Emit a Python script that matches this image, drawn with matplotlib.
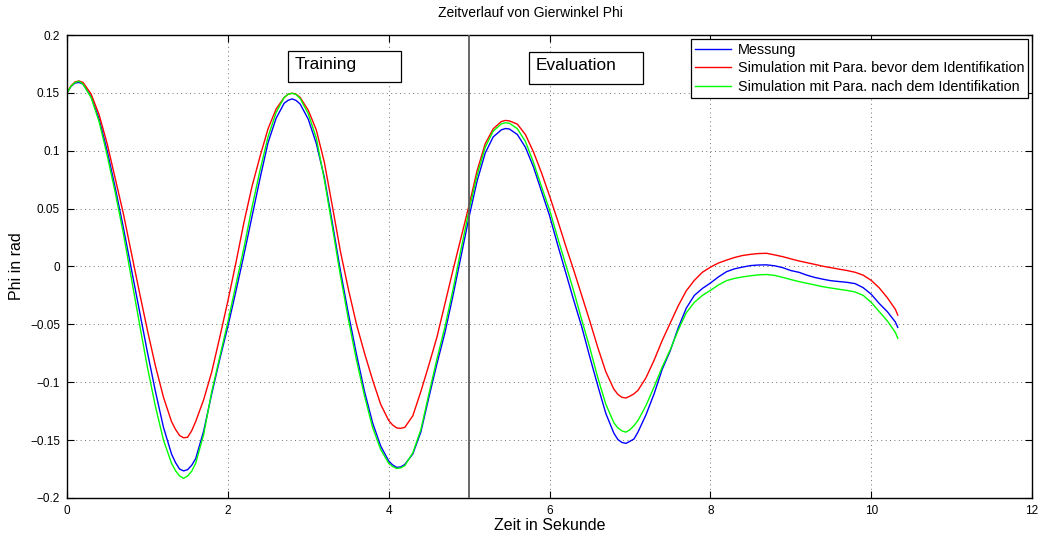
import matplotlib
matplotlib.use("Agg")
import matplotlib.pyplot as plt
from matplotlib.patches import Rectangle

plt.rcParams['font.family'] = ['Liberation Sans', 'DejaVu Sans']

# time axis (s), denser around the extrema
t = [
    0.0, 0.05, 0.1, 0.15, 0.2, 0.3, 0.4, 0.5, 0.6, 0.7, 0.8, 0.9,
    1.0, 1.1, 1.2, 1.3, 1.35, 1.4, 1.45, 1.5, 1.55, 1.6, 1.7, 1.8, 1.9,
    2.0, 2.1, 2.2, 2.3, 2.4, 2.5, 2.6, 2.7, 2.75, 2.8, 2.85, 2.9,
    3.0, 3.1, 3.2, 3.3, 3.4, 3.5, 3.6, 3.7, 3.8, 3.9,
    4.0, 4.05, 4.1, 4.15, 4.2, 4.3, 4.4, 4.5, 4.6, 4.7, 4.8, 4.9,
    5.0, 5.1, 5.2, 5.3, 5.4, 5.45, 5.5, 5.6, 5.7, 5.8, 5.9,
    6.0, 6.1, 6.2, 6.3, 6.4, 6.5, 6.6, 6.7, 6.8, 6.85, 6.9, 6.95,
    7.0, 7.05, 7.1, 7.2, 7.3, 7.4, 7.5, 7.6, 7.7, 7.8, 7.9,
    8.0, 8.1, 8.2, 8.3, 8.4, 8.5, 8.6, 8.7, 8.8, 8.9,
    9.0, 9.1, 9.2, 9.3, 9.4, 9.5, 9.6, 9.7, 9.8, 9.9,
    10.0, 10.1, 10.2, 10.3, 10.33,
]

# measured yaw angle
messung = [
    0.150, 0.1555, 0.1585, 0.1590, 0.1575, 0.1468, 0.1273, 0.100, 0.068, 0.034, -0.002, -0.038,
    -0.074, -0.108, -0.139, -0.162, -0.1695, -0.175, -0.1766, -0.1755, -0.1718, -0.166, -0.142, -0.110, -0.080,
    -0.052, -0.0215, 0.010, 0.043, 0.076, 0.107, 0.128, 0.141, 0.1436, 0.1448, 0.1434, 0.1403,
    0.1273, 0.1063, 0.077, 0.0375, -0.0037, -0.041, -0.076, -0.108, -0.135, -0.155,
    -0.168, -0.1715, -0.1735, -0.1732, -0.171, -0.162, -0.143, -0.113, -0.084, -0.057, -0.025, 0.009,
    0.043, 0.074, 0.098, 0.112, 0.1180, 0.1192, 0.1188, 0.114, 0.103, 0.086, 0.065,
    0.044, 0.019, -0.005, -0.029, -0.052, -0.078, -0.103, -0.127, -0.144, -0.1495, -0.152, -0.1528,
    -0.151, -0.1490, -0.143, -0.128, -0.110, -0.089, -0.073, -0.053, -0.036, -0.025, -0.019,
    -0.0143, -0.009, -0.0045, -0.002, -0.0005, 0.0008, 0.0013, 0.0014, 0.0006, -0.001,
    -0.0035, -0.005, -0.0075, -0.0095, -0.011, -0.0123, -0.013, -0.0137, -0.0148, -0.0183,
    -0.024, -0.032, -0.039, -0.048, -0.0526,
]

# simulation with parameters before identification
sim_vorher = [
    0.150, 0.1560, 0.1595, 0.1603, 0.1590, 0.149, 0.131, 0.106, 0.076, 0.046, 0.012, -0.022,
    -0.055, -0.086, -0.113, -0.134, -0.1408, -0.146, -0.1480, -0.1475, -0.1420, -0.134, -0.115, -0.091, -0.061,
    -0.030, 0.003, 0.038, 0.069, 0.095, 0.119, 0.136, 0.146, 0.1488, 0.1497, 0.1488, 0.146,
    0.135, 0.118, 0.090, 0.052, 0.013, -0.020, -0.050, -0.075, -0.098, -0.119,
    -0.133, -0.1370, -0.1395, -0.1398, -0.139, -0.129, -0.108, -0.085, -0.061, -0.032, -0.003, 0.025,
    0.053, 0.083, 0.106, 0.119, 0.1252, 0.1262, 0.1258, 0.123, 0.114, 0.099, 0.081,
    0.061, 0.040, 0.018, -0.003, -0.025, -0.047, -0.070, -0.091, -0.106, -0.1105, -0.113, -0.1136,
    -0.112, -0.1100, -0.107, -0.096, -0.081, -0.064, -0.049, -0.034, -0.021, -0.012, -0.005,
    -0.0006, 0.003, 0.0055, 0.0078, 0.0095, 0.0105, 0.0112, 0.0114, 0.010, 0.0085,
    0.0066, 0.0048, 0.0033, 0.0018, 0.0002, -0.001, -0.0023, -0.0035, -0.005, -0.0075,
    -0.012, -0.0185, -0.027, -0.037, -0.042,
]

# simulation with parameters after identification
sim_nachher = [
    0.150, 0.1557, 0.159, 0.1600, 0.1575, 0.146, 0.125, 0.096, 0.064, 0.029, -0.010, -0.049,
    -0.087, -0.121, -0.150, -0.170, -0.1765, -0.181, -0.1830, -0.181, -0.1770, -0.170, -0.145, -0.108, -0.078,
    -0.048, -0.016, 0.016, 0.051, 0.083, 0.112, 0.133, 0.146, 0.1488, 0.1497, 0.1485, 0.145,
    0.132, 0.111, 0.075, 0.034, -0.008, -0.046, -0.081, -0.112, -0.139, -0.158,
    -0.170, -0.1728, -0.1745, -0.1740, -0.172, -0.161, -0.141, -0.110, -0.080, -0.052, -0.020, 0.015,
    0.049, 0.079, 0.103, 0.117, 0.1232, 0.1242, 0.1238, 0.119, 0.108, 0.090, 0.069,
    0.049, 0.025, 0.002, -0.021, -0.046, -0.070, -0.096, -0.119, -0.135, -0.1395, -0.142, -0.1431,
    -0.141, -0.1375, -0.133, -0.120, -0.104, -0.087, -0.072, -0.055, -0.040, -0.031, -0.025,
    -0.0206, -0.016, -0.0122, -0.0103, -0.009, -0.008, -0.0072, -0.0069, -0.0077, -0.0094,
    -0.0113, -0.013, -0.0145, -0.016, -0.0175, -0.0186, -0.0197, -0.0207, -0.022, -0.025,
    -0.031, -0.039, -0.047, -0.057, -0.062,
]

legend_labels = [
    'Messung',
    'Simulation mit Para. bevor dem Identifikation',
    'Simulation mit Para. nach dem Identifikation',
]
x_ticks = [0, 2, 4, 6, 8, 10, 12]
y_ticks = [-0.2, -0.15, -0.1, -0.05, 0, 0.05, 0.1, 0.15, 0.2]
y_tick_labels = ['\u22120.2', '\u22120.15', '\u22120.1', '\u22120.05', '0',
                 '0.05', '0.1', '0.15', '0.2']
t_split = 5.0

fig = plt.figure(figsize=(10.4, 5.36), dpi=100)
ax = fig.add_axes([0.0644, 0.0709, 0.928, 0.8638])

ax.plot(t, messung, color=(0, 0, 1), lw=1.0, label=legend_labels[0])
ax.plot(t, sim_vorher, color=(1, 0, 0), lw=1.0, label=legend_labels[1])
ax.plot(t, sim_nachher, color=(0, 1, 0), lw=1.0, label=legend_labels[2])

ax.axvline(t_split, color='#5a5a5a', lw=1.3, zorder=3)

ax.set_xlim(0, 12)
ax.set_ylim(-0.2, 0.2)
ax.set_xticks(x_ticks)
ax.set_xticklabels([str(v) for v in x_ticks])
ax.set_yticks(y_ticks)
ax.set_yticklabels(y_tick_labels)
ax.tick_params(direction='in', length=5, width=0.8, labelsize=8.5,
               top=True, right=True, pad=5)
ax.grid(True, linestyle=(0, (1, 3.5)), color='#707070', lw=0.7)
for s in ax.spines.values():
    s.set_linewidth(1.0)
    s.set_color('black')

ax.set_xlabel('Zeit in Sekunde', fontsize=11.5, labelpad=1)
ax.set_ylabel('Phi in rad', fontsize=11.5, labelpad=4)
fig.text(0.51, 0.975, 'Zeitverlauf von Gierwinkel Phi', ha='center',
         va='center', fontsize=10)

# phase labels
for (x0, x1, y0, y1, label) in [(2.75, 4.156, 0.159, 0.1866, 'Training'),
                                (5.746, 7.164, 0.158, 0.1857, 'Evaluation')]:
    ax.add_patch(Rectangle((x0, y0), x1 - x0, y1 - y0, facecolor='white',
                           edgecolor='black', lw=0.9, zorder=4))
    ax.text(x0 + 0.085, (y0 + y1) / 2 + 0.0015, label, ha='left', va='center',
            fontsize=12.4, zorder=5)

leg = ax.legend(loc='upper right', fontsize=10.4, frameon=True, fancybox=False,
                borderaxespad=0.25, handlelength=2.5, handletextpad=0.45,
                labelspacing=0.3, borderpad=0.3)
leg.get_frame().set_edgecolor('black')
leg.get_frame().set_linewidth(0.9)
leg.get_frame().set_alpha(1)

fig.savefig('out.png', dpi=100)
